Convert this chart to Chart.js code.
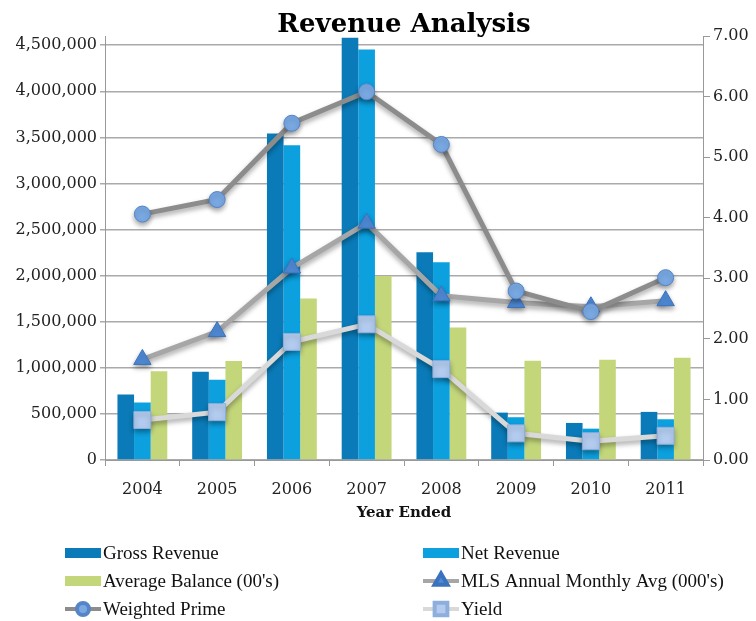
<!DOCTYPE html>
<html>
<head>
<meta charset="utf-8">
<script src="https://cdn.jsdelivr.net/npm/chart.js@4"></script>
<style>
  html, body { margin: 0; padding: 0; background: #fff; }
  canvas { display: block; }
</style>
</head>
<body>
<canvas id="chart" width="756" height="621"></canvas>
<script>
const years = ["2004", "2005", "2006", "2007", "2008", "2009", "2010", "2011"];

const grossRevenue = [710000, 957000, 3543000, 4580000, 2253000, 514000, 402000, 522000];
const netRevenue = [623000, 870000, 3416000, 4453000, 2145000, 464000, 340000, 442000];
const averageBalance = [964000, 1073000, 1753000, 1997000, 1438000, 1076000, 1087000, 1109000];

const mlsMonthlyAvg = [1.66, 2.12, 3.17, 3.91, 2.71, 2.6, 2.53, 2.63];
const weightedPrime = [4.06, 4.3, 5.56, 6.08, 5.21, 2.79, 2.45, 3.01];
const yieldRate = [0.66, 0.79, 1.95, 2.24, 1.5, 0.44, 0.31, 0.4];

const revenueTicks = [0, 500000, 1000000, 1500000, 2000000, 2500000, 3000000, 3500000, 4000000, 4500000];
const rateTicks = [0, 1, 2, 3, 4, 5, 6, 7];

const tickFont = { family: "DejaVu Serif", size: 16 };
const gridGray = "#aaaaaa";

// soft drop shadow under the line series
const lineShadow = {
	id: "lineShadow",
	beforeDatasetDraw(chart, args) {
		const ds = chart.data.datasets[args.index];
		chart.ctx.save();
		if (ds.type === "line") {
			chart.ctx.shadowColor = "rgba(0,0,0,0.35)";
			chart.ctx.shadowBlur = 5;
			chart.ctx.shadowOffsetY = 3;
		}
	},
	afterDatasetDraw(chart) {
		chart.ctx.restore();
	},
};

// two-column legend under the chart
const gridLegend = {
	id: "gridLegend",
	afterDraw(chart) {
		const { ctx } = chart;
		const cols = [65, 423];
		const rows = [553, 581, 609];
		chart.data.datasets.forEach((ds, i) => {
			const x = cols[i % 2];
			const y = rows[Math.floor(i / 2)];
			ctx.save();
			if (ds.type === "line") {
				ctx.strokeStyle = ds.borderColor;
				ctx.lineWidth = 4;
				ctx.beginPath();
				ctx.moveTo(x, y);
				ctx.lineTo(x + 36, y);
				ctx.stroke();
				ctx.fillStyle = ds.pointBackgroundColor;
				ctx.strokeStyle = ds.pointBorderColor;
				Chart.helpers.drawPoint(ctx, {
					pointStyle: ds.pointStyle,
					radius: ds.pointRadius * 0.75,
					rotation: 0,
					borderWidth: 1,
				}, x + 18, y);
			} else {
				ctx.fillStyle = ds.backgroundColor;
				ctx.fillRect(x, y - 5, 36, 10);
			}
			ctx.fillStyle = "#111";
			ctx.font = "19px 'Liberation Serif'";
			ctx.textBaseline = "middle";
			ctx.fillText(ds.label, x + 38, y + 1);
			ctx.restore();
		});
	},
};

new Chart(document.getElementById("chart"), {
	plugins: [lineShadow, gridLegend],
	data: {
		labels: years,
		datasets: [
			{
				type: "bar",
				label: "Gross Revenue",
				data: grossRevenue,
				backgroundColor: "#0a7bb8",
				yAxisID: "y",
				order: 5,
			},
			{
				type: "bar",
				label: "Net Revenue",
				data: netRevenue,
				backgroundColor: "#0ca0df",
				yAxisID: "y",
				order: 5,
			},
			{
				type: "bar",
				label: "Average Balance (00's)",
				data: averageBalance,
				backgroundColor: "#c3d67a",
				yAxisID: "y",
				order: 5,
			},
			{
				type: "line",
				label: "MLS Annual Monthly Avg (000's)",
				data: mlsMonthlyAvg,
				borderColor: "#a6a6a6",
				borderWidth: 5,
				pointStyle: "triangle",
				pointRadius: 10,
				pointBackgroundColor: "#4f8ad6",
				pointBorderColor: "#3b72bd",
				pointBorderWidth: 1,
				yAxisID: "y1",
				order: 2,
			},
			{
				type: "line",
				label: "Weighted Prime",
				data: weightedPrime,
				borderColor: "#8c8c8c",
				borderWidth: 5,
				pointStyle: "circle",
				pointRadius: 8,
				pointBackgroundColor: "#79a8e2",
				pointBorderColor: "#5585c6",
				pointBorderWidth: 1,
				yAxisID: "y1",
				order: 1,
			},
			{
				type: "line",
				label: "Yield",
				data: yieldRate,
				borderColor: "#d9d9d9",
				borderWidth: 5,
				pointStyle: "rect",
				pointRadius: 12,
				pointBackgroundColor: "#b2cbee",
				pointBorderColor: "#8eaedc",
				pointBorderWidth: 1,
				yAxisID: "y1",
				order: 3,
			},
		],
	},
	options: {
		responsive: false,
		animation: false,
		layout: { padding: { left: 0, right: 0, top: 0, bottom: 97 } },
		datasets: {
			bar: { barPercentage: 1, categoryPercentage: 0.667 },
		},
		plugins: {
			legend: { display: false },
			tooltip: { enabled: false },
			title: {
				display: true,
				text: "Revenue Analysis",
				fullSize: false,
				color: "#000",
				font: { family: "DejaVu Serif", size: 26, weight: "bold", lineHeight: 1 },
				padding: { top: 12, bottom: -2 },
			},
		},
		scales: {
			x: {
				afterFit: scale => { scale.height = 64; },
				grid: {
					offset: true,
					drawOnChartArea: false,
					tickLength: 6,
					color: "#999",
				},
				border: { display: true, color: "#999" },
				ticks: { color: "#222", font: tickFont, padding: 14 },
				title: {
					display: true,
					text: "Year Ended",
					color: "#111",
					font: { family: "DejaVu Serif", size: 15, weight: "bold" },
					padding: { top: 4, bottom: 2 },
				},
			},
			y: {
				position: "left",
				min: 0,
				max: 4600000,
				afterFit: scale => { scale.width = 105; },
				afterBuildTicks: scale => {
					scale.ticks = revenueTicks.map(value => ({ value }));
				},
				ticks: {
					autoSkip: false,
					color: "#222",
					font: tickFont,
					padding: 3,
					callback: v => v.toLocaleString("en-US"),
				},
				grid: { color: gridGray, lineWidth: 1.5, tickLength: 5 },
				border: { display: true, color: "#999" },
			},
			y1: {
				position: "right",
				min: 0,
				max: 7,
				afterFit: scale => { scale.width = 53; },
				afterBuildTicks: scale => {
					scale.ticks = rateTicks.map(value => ({ value }));
				},
				ticks: {
					autoSkip: false,
					color: "#222",
					font: tickFont,
					padding: 3,
					callback: v => v.toFixed(2),
				},
				grid: { drawOnChartArea: false, color: "#999", tickLength: 7 },
				border: { display: true, color: "#999" },
			},
		},
	},
});
</script>
</body>
</html>
